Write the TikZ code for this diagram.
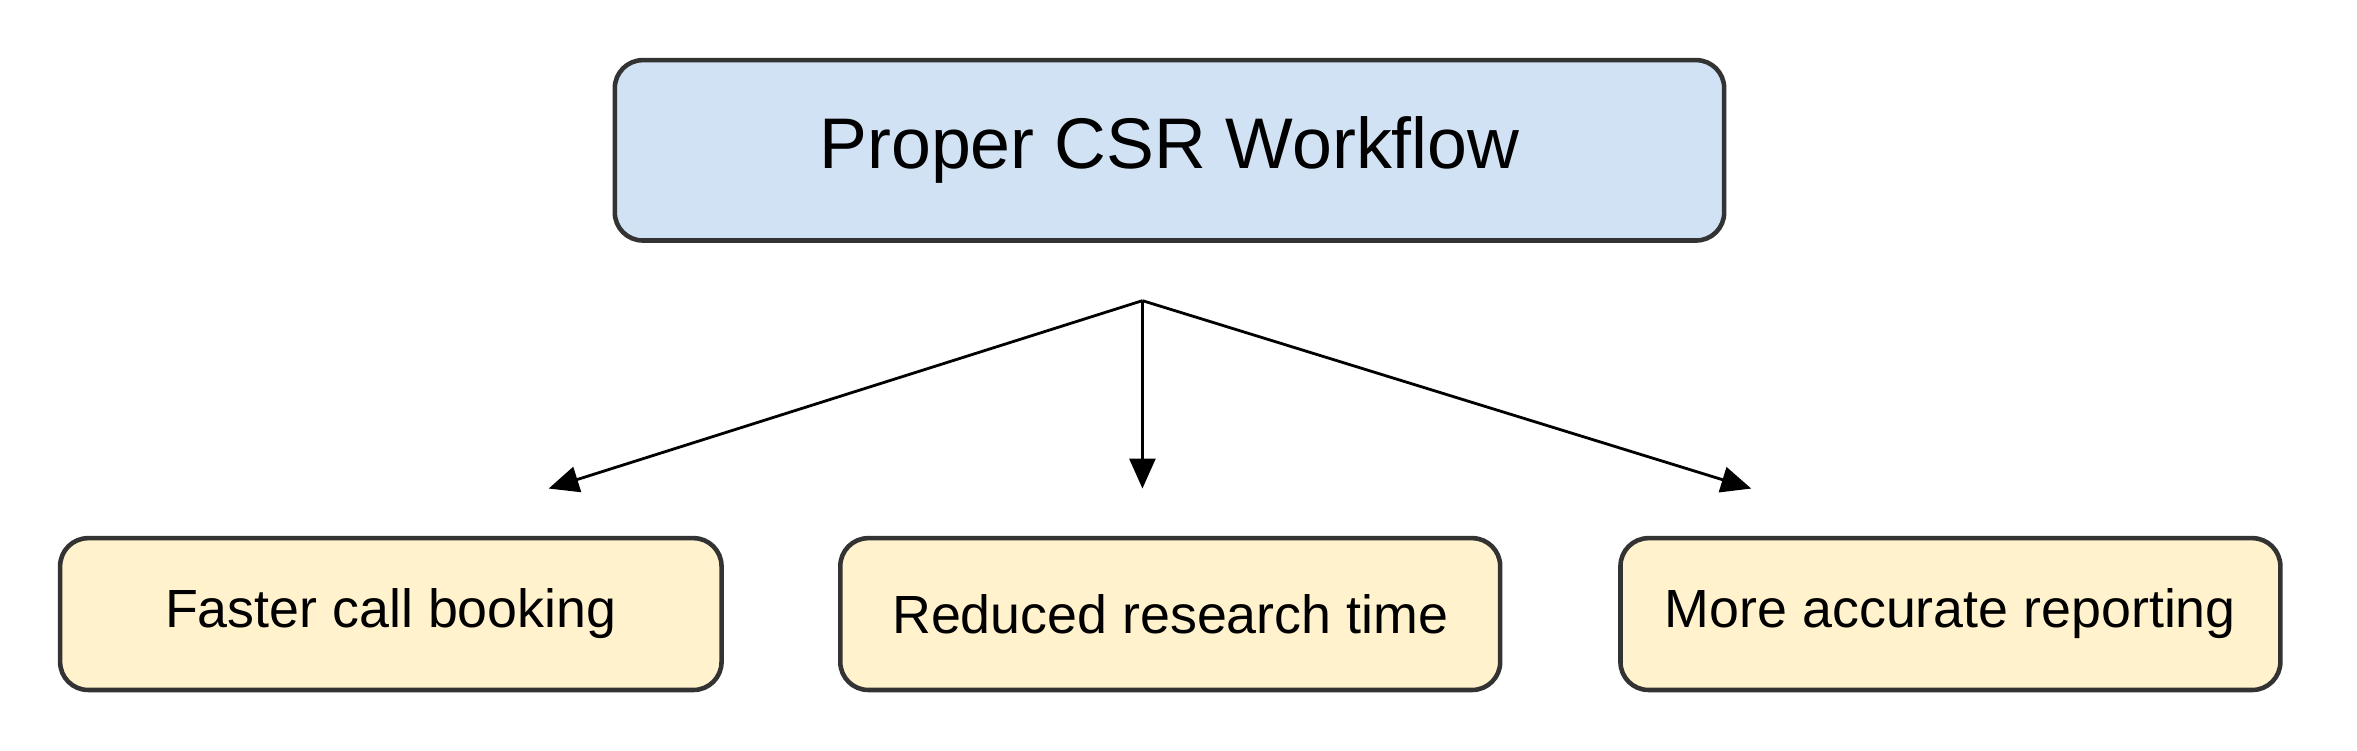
\documentclass[tikz,border=0pt]{standalone}
\usepackage{fontspec}
\setmainfont{Liberation Sans}
\usetikzlibrary{arrows.meta}
\definecolor{topfill}{HTML}{D0E2F3}
\definecolor{botfill}{HTML}{FFF2CC}
\definecolor{edge}{HTML}{333333}
\begin{document}
\begin{tikzpicture}[x=0.01503cm,y=-0.01503cm,
  box/.style={draw=edge,line width=1.3pt,rounded corners=0.28cm,inner sep=0pt},
  conn/.style={line width=0.8pt,-{Triangle[length=0.3cm,width=0.26cm]}}]
\useasboundingbox (0,0) rectangle (1568,499);
\node[box,fill=topfill,minimum width=738*0.01503cm,minimum height=120*0.01503cm,font=\fontsize{20.4}{24}\selectfont] (top) at (778,100) {Proper CSR Workflow};
\node[box,fill=botfill,minimum width=440*0.01503cm,minimum height=101*0.01503cm,font=\fontsize{15.3}{18}\selectfont] (b1) at (260,408.5) {Faster call booking};
\node[box,fill=botfill,minimum width=439*0.01503cm,minimum height=101*0.01503cm,font=\fontsize{15.3}{18}\selectfont] (b2) at (778.5,408.5) {Reduced research time};
\node[box,fill=botfill,minimum width=439*0.01503cm,minimum height=101*0.01503cm,font=\fontsize{15.3}{18}\selectfont] (b3) at (1297.5,408.5) {More accurate reporting};
\coordinate (br) at (760,200);
\coordinate (e1) at (365,325);
\coordinate (e2) at (760,325);
\coordinate (e3) at (1165,325);
\draw[conn] (br) -- (e1);
\draw[conn] (br) -- (e2);
\draw[conn] (br) -- (e3);
\end{tikzpicture}
\end{document}
